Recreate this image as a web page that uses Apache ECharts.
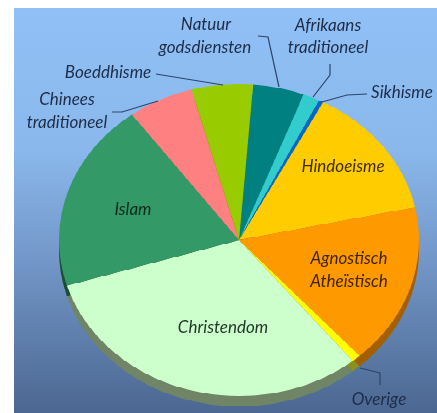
<!DOCTYPE html>
<html lang="nl">
<head>
    <meta charset="UTF-8">
    <title>Godsdiensten</title>
    <style>
        html, body { margin: 0; padding: 0; background: #fff; overflow: hidden; }
        #stage { position: relative; width: 437px; height: 413px; overflow: hidden; filter: blur(0.5px); }
        #back { position: absolute; left: 14px; top: 8px; width: 423px; height: 405px;
                background: linear-gradient(#90c0f6 0%, #8ab8ec 35%, #7397c8 62%, #4b6791 100%); }
        /* the pie lies tilted, so its layer is squashed vertically */
        #pieChart { position: absolute; left: 0; top: 0; width: 437px; height: 476px;
                    transform: scaleY(0.8667); transform-origin: 0 0; }
        #textChart { position: absolute; left: 0; top: 0; width: 437px; height: 413px; }
    </style>
</head>
<body>
<div id="stage">
    <div id="back"></div>
    <div id="pieChart"></div>
    <div id="textChart"></div>
</div>
<script src="https://cdn.jsdelivr.net/npm/echarts@6/dist/echarts.min.js"></script>
<script>
    // clockwise, starting at the Boeddhisme / Natuur edge
    var categories = ['Natuur godsdiensten', 'Afrikaans traditioneel', 'Sikhisme', 'Hindoeisme',
        'Agnostisch Atheïstisch', 'Overige', 'Christendom', 'Islam', 'Chinees traditioneel', 'Boeddhisme'];
    var shares = [4.6, 1.5, 0.4, 13.9, 16.7, 0.8, 31.2, 19.6, 5.9, 5.5];
    var topColors = ['#008080', '#33cccc', '#0066cc', '#ffcc00', '#ff9900', '#ffff00', '#ccffcc', '#339966', '#ff8080', '#99cc00'];
    var sideColors = ['#004d4d', '#1f7a7a', '#003d7a', '#997a00', '#a35f00', '#8c9020', '#6f8566', '#1a4d33', '#995050', '#5c7a00'];

    var pieData = categories.map(function (name, i) { return {name: name, value: shares[i], itemStyle: {color: topColors[i]}}; });
    var sideData = categories.map(function (name, i) { return {name: name, value: shares[i], itemStyle: {color: sideColors[i]}}; });

    var pieChart = echarts.init(document.getElementById('pieChart'));
    pieChart.setOption({
        animation: false,
        series: [
            {type: 'pie', silent: true, radius: 180, center: [239, 289], startAngle: 85.5, label: {show: false}, labelLine: {show: false}, data: sideData},
            {type: 'pie', silent: true, radius: 180, center: [239, 277], startAngle: 85.5, label: {show: false}, labelLine: {show: false}, data: pieData}
        ]
    });

    var labels = [
        {text: 'Natuur', x: 206, y: 25, c: '#1d2c47'},
        {text: 'godsdiensten', x: 205, y: 48, c: '#1d2c47'},
        {text: 'Afrikaans', x: 328, y: 26, c: '#1d2c47'},
        {text: 'traditioneel', x: 328, y: 48, c: '#1d2c47'},
        {text: 'Boeddhisme', x: 108, y: 73, c: '#1d2c47'},
        {text: 'Chinees', x: 67, y: 100, c: '#1d2c47'},
        {text: 'traditioneel', x: 67, y: 123, c: '#1d2c47'},
        {text: 'Sikhisme', x: 402, y: 93, c: '#1d2c47'},
        {text: 'Hindoeisme', x: 343, y: 167, c: '#3d2c00'},
        {text: 'Islam', x: 133, y: 210, c: '#0d2a1c'},
        {text: 'Agnostisch', x: 349, y: 259, c: '#3d2400'},
        {text: 'Atheïstisch', x: 349, y: 282, c: '#3d2400'},
        {text: 'Christendom', x: 223, y: 328, c: '#24382a'},
        {text: 'Overige', x: 379, y: 400, c: '#1d2c47'}
    ];
    var leaders = [
        [[258, 36], [268, 37], [279, 87]],
        [[330, 64], [330, 75], [313, 97]],
        [[156, 74], [223, 85]],
        [[112, 112], [122, 112], [158, 101]],
        [[322, 102], [347, 95], [367, 94]],
        [[360, 368], [380, 373], [380, 385]]
    ];

    var elements = leaders.map(function (pts) {
        return {type: 'polyline', silent: true, shape: {points: pts}, style: {stroke: '#2c466b', lineWidth: 1.2, fill: null}};
    }).concat(labels.map(function (l) {
        return {type: 'text', silent: true, x: l.x, y: l.y, style: {
            text: l.text, fill: l.c, align: 'center', verticalAlign: 'middle',
            font: 'italic 17px Lato, "Open Sans", sans-serif'
        }};
    }));

    var textChart = echarts.init(document.getElementById('textChart'));
    textChart.setOption({animation: false, graphic: {elements: elements}});
</script>
</body>
</html>
